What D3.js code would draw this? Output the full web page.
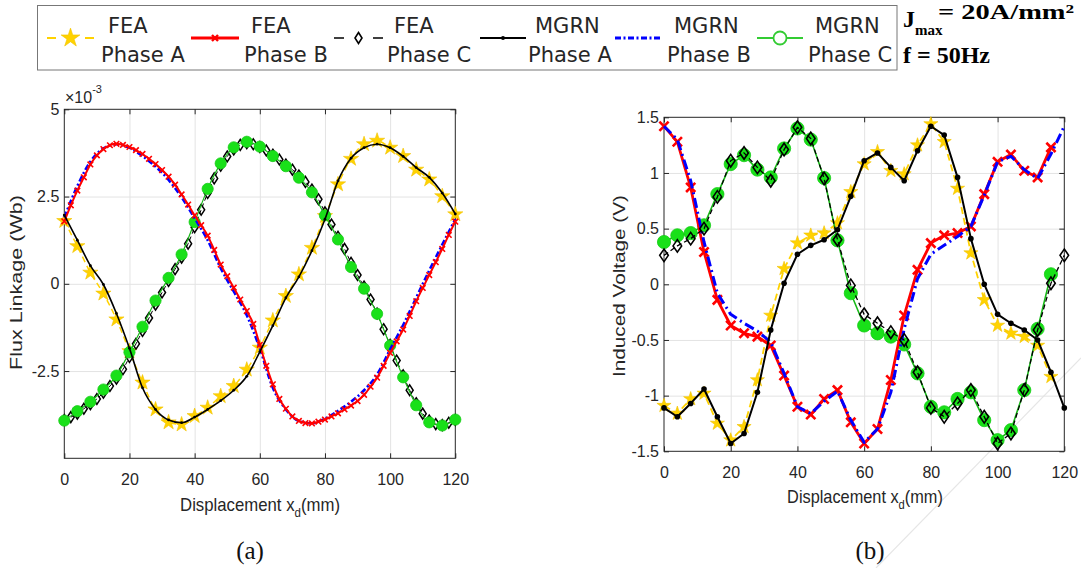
<!DOCTYPE html>
<html><head><meta charset="utf-8">
<script src="https://cdn.jsdelivr.net/npm/d3@7"></script>
<style>body{margin:0;background:#fff;}svg{display:block;}</style>
</head><body>
<svg id="c" width="1081" height="568"></svg>
<script>
// ---------------- DATA ----------------
const xTicks = [0, 20, 40, 60, 80, 100, 120];
const fluxTicks = [-2.5, 0, 2.5, 5];
const voltTicks = [-1.5, -1, -0.5, 0, 0.5, 1, 1.5];

// displacement grids (mm)
const disp4 = [0,4,8,12,16,20,24,28,32,36,40,44,48,52,56,60,64,68,72,76,80,84,88,92,96,100,104,108,112,116,120];
const disp2 = [0,2,4,6,8,10,12,14,16,18,20,22,24,26,28,30,32,34,36,38,40,42,44,46,48,50,52,54,56,58,60,62,64,66,68,70,72,74,76,78,80,82,84,86,88,90,92,94,96,98,100,102,104,106,108,110,112,114,116,118,120];
const disp4to116 = [0,4,8,12,16,20,24,28,32,36,40,44,48,52,56,60,64,68,72,76,80,84,88,92,96,100,104,108,112,116];

// (a) Flux linkage, x10^-3 Wb
const fluxFeaA  = [1.8,1.08,0.32,-0.28,-1.02,-1.93,-2.83,-3.6,-3.97,-4.03,-3.79,-3.55,-3.22,-2.93,-2.46,-1.83,-1.05,-0.35,0.27,1.03,1.94,2.85,3.58,4.0,4.1,3.9,3.66,3.27,2.99,2.51,1.99];
const fluxMgrnA = [1.97,1.25,0.52,-0.02,-0.85,-1.85,-2.98,-3.6,-3.9,-3.98,-3.82,-3.6,-3.35,-3.05,-2.65,-1.95,-1.2,-0.4,0.2,0.95,1.85,2.95,3.6,3.9,4.0,3.9,3.65,3.33,3.05,2.6,2.0];
const fluxFeaB  = [1.79,2.25,2.67,3.05,3.42,3.68,3.86,3.97,4.01,3.98,3.92,3.83,3.72,3.58,3.43,3.26,3.07,2.84,2.56,2.27,1.96,1.68,1.38,0.97,0.55,0.22,-0.11,-0.45,-0.78,-1.15,-1.75,-2.35,-2.88,-3.3,-3.58,-3.8,-3.93,-3.99,-4.0,-3.95,-3.89,-3.8,-3.71,-3.6,-3.49,-3.36,-3.18,-2.95,-2.69,-2.35,-1.98,-1.65,-1.31,-0.92,-0.5,-0.12,0.25,0.62,1.0,1.4,1.78];
const fluxMgrnB = [1.9,2.8,3.5,3.88,4.0,3.9,3.66,3.36,2.98,2.48,1.88,1.25,0.45,-0.22,-0.9,-1.85,-2.98,-3.6,-3.93,-4.0,-3.86,-3.64,-3.38,-3.05,-2.6,-1.88,-1.18,-0.4,0.38,1.12,1.85];
const fluxFeaC  = [-3.9,-3.82,-3.72,-3.58,-3.45,-3.3,-3.12,-2.93,-2.72,-2.45,-2.1,-1.72,-1.35,-0.98,-0.6,-0.25,0.08,0.42,0.75,1.15,1.62,2.12,2.6,3.02,3.38,3.65,3.85,3.98,4.03,4.0,3.92,3.82,3.7,3.56,3.42,3.27,3.1,2.92,2.7,2.42,2.05,1.7,1.35,1.0,0.6,0.25,-0.08,-0.45,-0.85,-1.3,-1.75,-2.2,-2.62,-3.05,-3.42,-3.72,-3.92,-4.02,-4.05,-3.98,-3.9];
const fluxMgrnC = [-3.92,-3.65,-3.38,-3.03,-2.63,-1.96,-1.23,-0.48,0.17,0.84,1.77,2.72,3.45,3.91,4.07,3.93,3.66,3.37,3.04,2.62,1.96,1.27,0.48,-0.14,-0.86,-1.77,-2.68,-3.48,-3.97,-4.06,-3.89];

// (b) Induced voltage, V
const voltFeaA  = [-1.09,-1.16,-1.03,-0.98,-1.25,-1.4,-1.28,-0.86,-0.28,0.14,0.37,0.44,0.46,0.55,0.83,1.08,1.19,1.02,0.99,1.25,1.44,1.28,0.86,0.28,-0.14,-0.37,-0.44,-0.47,-0.55,-0.83];
const voltMgrnA = [-1.11,-1.19,-1.07,-0.94,-1.19,-1.43,-1.34,-0.97,-0.41,0.01,0.27,0.35,0.4,0.49,0.79,1.11,1.18,1.05,0.93,1.2,1.42,1.34,0.96,0.41,0.0,-0.27,-0.35,-0.41,-0.5,-0.79,-1.11];
const voltFeaB  = [1.42,1.28,0.87,0.29,-0.14,-0.37,-0.44,-0.47,-0.55,-0.82,-1.1,-1.17,-1.03,-0.95,-1.24,-1.43,-1.3,-0.86,-0.28,0.13,0.37,0.44,0.46,0.52,0.81,1.1,1.165,1.02,0.96,1.23];
const voltMgrnB = [1.42,1.3,0.93,0.38,-0.08,-0.27,-0.35,-0.42,-0.52,-0.8,-1.1,-1.16,-1.05,-0.96,-1.22,-1.42,-1.3,-0.97,-0.4,0.05,0.27,0.35,0.43,0.52,0.8,1.1,1.15,1.03,0.95,1.17,1.42];
const voltFeaC  = [0.26,0.345,0.41,0.5,0.785,1.11,1.18,1.05,0.93,1.21,1.41,1.31,0.95,0.4,-0.01,-0.27,-0.35,-0.43,-0.5,-0.79,-1.11,-1.19,-1.07,-0.95,-1.19,-1.43,-1.34,-0.95,-0.41,0.01,0.26];
const voltMgrnC = [0.38,0.44,0.46,0.53,0.81,1.08,1.16,1.03,0.96,1.22,1.4,1.3,0.955,0.395,-0.08,-0.37,-0.44,-0.47,-0.54,-0.8,-1.1,-1.15,-1.03,-0.97,-1.22,-1.4,-1.31,-0.95,-0.4,0.09];

const legendNames = [["FEA","Phase A"],["FEA","Phase B"],["FEA","Phase C"],["MGRN","Phase A"],["MGRN","Phase B"],["MGRN","Phase C"]];

// ---------------- STYLE ----------------
const ink = "#262626";
const SANS = "'Liberation Sans', Arial, Helvetica, sans-serif";
const DEJAVU = "'DejaVu Sans', Verdana, sans-serif";
const SERIF = "'Liberation Serif', 'Times New Roman', serif";
const YEL = "#FFD200", RED = "#FF0000", BLUE = "#0000FF", GRN = "#19E019", GRNL = "#18B818";

const svg = d3.select("#c");
svg.append("rect").attr("width",1081).attr("height",568).attr("fill","#fff");

const zip = (xs, ys) => ys.map((v,i)=>[xs[i], v]);

function starPath(size){ return d3.symbol().type(d3.symbolStar).size(size)(); }
function diamondPath(w,h){ return `M0,${-h}L${w},0L0,${h}L${-w},0Z`; }
function crossPath(s){ return `M${-s},${-s}L${s},${s}M${-s},${s}L${s},${-s}`; }

function fitText(textSel, target){
  const w = textSel.node().getBBox().width;
  textSel.attr("transform", `scale(${target/w},1)`);
}

function panel(cfg){
  const x = d3.scaleLinear().domain([0,120]).range([cfg.x0, cfg.x1]);
  const y = d3.scaleLinear().domain(cfg.yDom).range([cfg.yBot, cfg.yTop]);
  const g = svg.append("g");
  // grid
  g.append("g").attr("transform",`translate(0,${cfg.yBot})`)
    .call(d3.axisBottom(x).tickValues(xTicks.slice(1,-1)).tickSize(-(cfg.yBot-cfg.yTop)).tickFormat(""))
    .call(a=>a.select(".domain").remove())
    .call(a=>a.selectAll("line").attr("stroke","#e3e3e3"));
  g.append("g").attr("transform",`translate(${cfg.x0},0)`)
    .call(d3.axisLeft(y).tickValues(cfg.yTicks.filter(t=>y(t)>cfg.yTop+1 && y(t)<cfg.yBot-1)).tickSize(-(cfg.x1-cfg.x0)).tickFormat(""))
    .call(a=>a.select(".domain").remove())
    .call(a=>a.selectAll("line").attr("stroke","#e3e3e3"));
  // box
  g.append("rect").attr("x",cfg.x0).attr("y",cfg.yTop).attr("width",cfg.x1-cfg.x0).attr("height",cfg.yBot-cfg.yTop)
    .attr("fill","none").attr("stroke",ink).attr("stroke-width",1);
  // axes
  const style = a => { a.select(".domain").remove(); a.attr("font-size",16).attr("font-family",SANS);
    a.selectAll("text").attr("fill",ink); a.selectAll("line").attr("stroke",ink); };
  g.append("g").attr("transform",`translate(0,${cfg.yBot})`)
    .call(d3.axisBottom(x).tickValues(xTicks).tickSizeInner(-5).tickSizeOuter(0).tickPadding(15).tickFormat(String)).call(style);
  g.append("g").attr("transform",`translate(${cfg.x0},0)`)
    .call(d3.axisLeft(y).tickValues(cfg.yTicks).tickSizeInner(-5).tickSizeOuter(0).tickPadding(5).tickFormat(String)).call(style);
  g.append("g").attr("transform",`translate(0,${cfg.yTop})`)
    .call(d3.axisTop(x).tickValues(xTicks).tickSizeInner(-5).tickSizeOuter(0).tickFormat("")).call(style);
  g.append("g").attr("transform",`translate(${cfg.x1},0)`)
    .call(d3.axisRight(y).tickValues(cfg.yTicks).tickSizeInner(-5).tickSizeOuter(0).tickFormat("")).call(style);
  return {x,y,g};
}

function drawLine(p, pts, st){
  const gen = d3.line().x(d=>p.x(d[0])).y(d=>p.y(d[1])).curve(st.curve || d3.curveLinear);
  p.g.append("path").attr("d",gen(pts)).attr("fill","none").attr("stroke",st.stroke)
    .attr("stroke-width",st.width).attr("stroke-dasharray",st.dash||null).attr("stroke-linejoin","round");
}
function drawMarks(p, pts, path, st){
  p.g.append("g").selectAll("path").data(pts).join("path")
    .attr("transform",d=>`translate(${p.x(d[0])},${p.y(d[1])})`).attr("d",path)
    .attr("fill",st.fill||"none").attr("stroke",st.stroke||"none").attr("stroke-width",st.width||1);
}
function drawDots(p, pts, r, st){
  p.g.append("g").selectAll("circle").data(pts).join("circle")
    .attr("cx",d=>p.x(d[0])).attr("cy",d=>p.y(d[1])).attr("r",r)
    .attr("fill",st.fill||"none").attr("stroke",st.stroke||"none").attr("stroke-width",st.width||1);
}

// faint scan artefact line (drawn beneath everything)
svg.append("line").attr("x1",1081).attr("y1",358).attr("x2",876).attr("y2",568).attr("stroke","#e6e6e6").attr("stroke-width",1.2);

// ---------------- PANEL (a) ----------------
const A = panel({x0:64.3, x1:455.3, yTop:109.3, yBot:458.3, yDom:[-5,5], yTicks:fluxTicks});
const sm = d3.curveMonotoneX;
drawLine(A, zip(disp4,fluxFeaA), {stroke:YEL, width:1.5, dash:"6,4", curve:sm});
drawMarks(A, zip(disp4,fluxFeaA), starPath(72), {fill:YEL, stroke:"#F2C200", width:0.6});
drawLine(A, zip(disp2,fluxFeaC), {stroke:"#000", width:1, dash:"4,3", curve:sm});
drawMarks(A, zip(disp2,fluxFeaC), diamondPath(3.5,5.4), {stroke:"#000", width:1.5});
drawLine(A, zip(disp4,fluxMgrnC), {stroke:GRNL, width:1.2, curve:sm});
drawDots(A, zip(disp4,fluxMgrnC), 5.6, {fill:GRN, stroke:"#16cc16", width:0.8});
drawLine(A, zip(disp4,fluxMgrnB), {stroke:BLUE, width:2.6, dash:"6,2.5,2,2.5", curve:sm});
drawLine(A, zip(disp2,fluxFeaB), {stroke:RED, width:2, curve:sm});
drawMarks(A, zip(disp2,fluxFeaB), crossPath(2.8), {stroke:RED, width:1.6});
drawLine(A, zip(disp4,fluxMgrnA), {stroke:"#000", width:1.6, curve:sm});
drawDots(A, zip(disp4,fluxMgrnA), 1.4, {fill:"#000"});

// x10^-3
svg.append("text").attr("x",65).attr("y",103).attr("font-family",SANS).attr("font-size",16).attr("fill",ink)
  .text("\u00d710").append("tspan").attr("font-size",11).attr("dy",-10).text("-3");

// ---------------- PANEL (b) ----------------
const B = panel({x0:664, x1:1064.3, yTop:117.3, yBot:451.3, yDom:[-1.5,1.5], yTicks:voltTicks});
drawLine(B, zip(disp4to116,voltFeaA), {stroke:YEL, width:1.8, dash:"7,4"});
drawMarks(B, zip(disp4to116,voltFeaA), starPath(62), {fill:YEL, stroke:"#F2C200", width:0.6});
drawLine(B, zip(disp4to116,voltMgrnC), {stroke:GRNL, width:1.6});
drawDots(B, zip(disp4to116,voltMgrnC), 6.6, {fill:GRN, stroke:"#16cc16", width:0.8});
drawLine(B, zip(disp4to116,voltFeaB), {stroke:RED, width:2.8});
drawMarks(B, zip(disp4to116,voltFeaB), crossPath(4.6), {stroke:RED, width:2.6});
drawLine(B, zip(disp4,voltMgrnB), {stroke:BLUE, width:3, dash:"10,4,2,4"});
drawLine(B, zip(disp4,voltFeaC), {stroke:"#000", width:1.3, dash:"5,3"});
drawMarks(B, zip(disp4,voltFeaC), diamondPath(4.3,6.3), {stroke:"#000", width:1.6});
drawLine(B, zip(disp4,voltMgrnA), {stroke:"#000", width:2});
drawDots(B, zip(disp4,voltMgrnA), 2.8, {fill:"#000"});

// ---------------- AXIS LABELS ----------------
function yLabel(cx, cy, txt, len){
  const g = svg.append("g").attr("transform",`translate(${cx},${cy}) rotate(-90)`);
  const t = g.append("text").attr("text-anchor","middle").attr("font-family",SANS).attr("font-size",17).attr("fill",ink).text(txt);
  fitText(t, len);
}
yLabel(22, 282.5, "Flux Linkage (Wb)", 175);
yLabel(625, 286, "Induced Voltage (V)", 182);

function xLabel(cx, by, len){
  const g = svg.append("g").attr("transform",`translate(${cx},${by})`);
  const t = g.append("text").attr("text-anchor","middle").attr("font-family",SANS).attr("font-size",17.5).attr("fill",ink);
  t.append("tspan").text("Displacement x");
  t.append("tspan").attr("font-size",12).attr("dy",6).text("d");
  t.append("tspan").attr("dy",-6).text("(mm)");
  fitText(t, len);
}
xLabel(260, 511, 160);
xLabel(865, 502.5, 156);

// panel captions
svg.append("text").attr("x",250).attr("y",559).attr("text-anchor","middle").attr("font-family",SERIF).attr("font-size",25).attr("fill","#111").text("(a)");
svg.append("text").attr("x",870).attr("y",559).attr("text-anchor","middle").attr("font-family",SERIF).attr("font-size",25).attr("fill","#111").text("(b)");

// ---------------- LEGEND ----------------
const lg = svg.append("g");
lg.append("rect").attr("x",37.5).attr("y",5.5).attr("width",859.5).attr("height",64.5).attr("fill","#fff").attr("stroke","#777").attr("stroke-width",1);
const legLine = [[47,94],[191,239],[334,383],[480,526],[615,662],[757,803]];
const legText = [101,244,387,528,667,808];
const ly = 38;
const legStyles = [
  {stroke:YEL, width:2, dash:"9,29"},
  {stroke:RED, width:3, dash:null},
  {stroke:"#000", width:1.5, dash:"10,29"},
  {stroke:"#000", width:1.8, dash:null},
  {stroke:BLUE, width:3, dash:"6,2.5,2,2.5"},
  {stroke:"#33CC33", width:1.8, dash:null}
];
legendNames.forEach((nm,i)=>{
  const [a,b] = legLine[i], s = legStyles[i], m = (a+b)/2;
  lg.append("line").attr("x1",a).attr("x2",b).attr("y1",ly).attr("y2",ly)
    .attr("stroke",s.stroke).attr("stroke-width",s.width).attr("stroke-dasharray",s.dash);
  const t = lg.append("text").attr("font-family",DEJAVU).attr("font-size",21).attr("fill",ink);
  t.append("tspan").attr("x",legText[i]+7).attr("y",33).text(nm[0]);
  t.append("tspan").attr("x",legText[i]).attr("y",62).text(nm[1]);
  const mk = lg.append("g").attr("transform",`translate(${m},${ly})`);
  if(i===0) mk.append("path").attr("d",starPath(110)).attr("fill",YEL).attr("stroke","#F2C200").attr("stroke-width",0.6);
  if(i===1) mk.append("path").attr("d",crossPath(3)).attr("stroke",RED).attr("stroke-width",2.4).attr("fill","none");
  if(i===2) mk.append("path").attr("d",diamondPath(3.5,5.5)).attr("stroke","#000").attr("stroke-width",1.6).attr("fill","#fff");
  if(i===3) mk.append("circle").attr("r",2).attr("fill","#000");
  if(i===5) mk.append("circle").attr("r",6.5).attr("fill","#fff").attr("stroke","#33CC33").attr("stroke-width",1.8);
});

// condition text
const c1 = svg.append("text").attr("x",903).attr("y",27).attr("font-family",SERIF).attr("font-weight","bold").attr("font-size",24).attr("fill","#000");
c1.append("tspan").text("J");
c1.append("tspan").attr("font-size",15).attr("dy",8).text("max");
c1.append("tspan").attr("x",938).attr("dy",-16).attr("font-size",21).attr("textLength",136).attr("lengthAdjust","spacingAndGlyphs").text("= 20A/mm\u00b2");
svg.append("text").attr("x",903).attr("y",63).attr("font-family",SERIF).attr("font-weight","bold").attr("font-size",24)
  .attr("textLength",87).attr("lengthAdjust","spacingAndGlyphs").attr("fill","#000").text("f = 50Hz");
</script>
</body></html>
